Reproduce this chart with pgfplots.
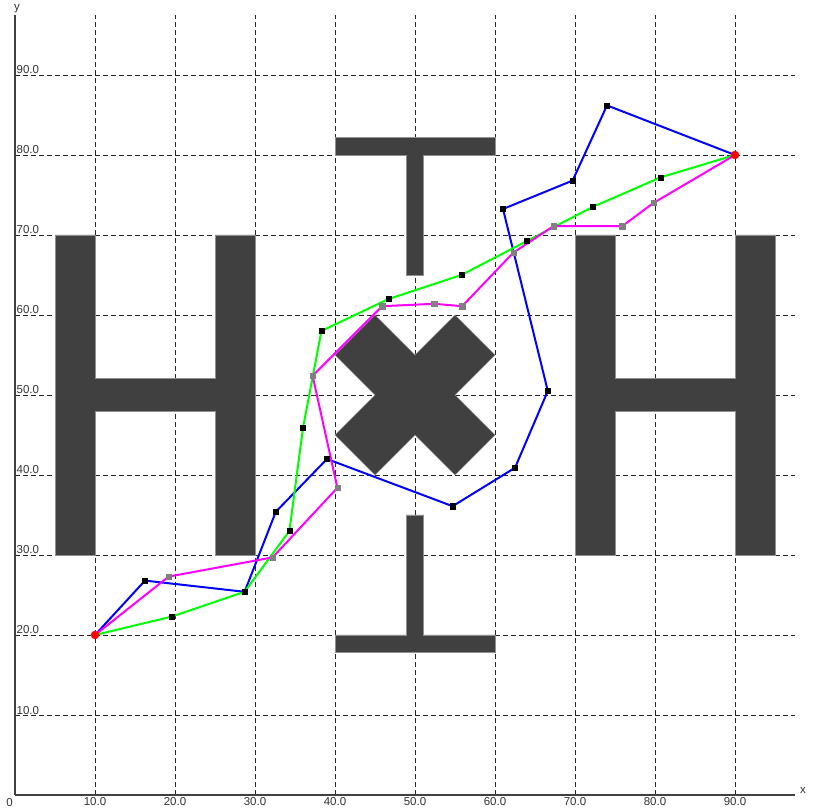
\documentclass[border=0pt]{standalone}
\usepackage{fontspec}
\setmainfont{Liberation Sans}
\usepackage{pgfplots}
\pgfplotsset{compat=1.18}

\definecolor{shape}{HTML}{404040}
\definecolor{shapeedge}{HTML}{909090}
\definecolor{axisgray}{HTML}{404040}
\definecolor{pgreen}{HTML}{00FF00}
\definecolor{pblue}{HTML}{0000FF}
\definecolor{pmag}{HTML}{FF00FF}
\definecolor{mgray}{HTML}{808080}

\pgfplotstableread{
x y
10 20
16.25 26.8
28.7 25.4
32.6 35.4
39.0 42.0
54.7 36.1
62.5 40.9
66.6 50.5
61.0 73.25
69.7 76.8
74.0 86.2
90 80
}\bluepath

\pgfplotstableread{
x y
10 20
19.6 22.3
28.7 25.4
34.3 33.0
36.0 45.9
38.3 58.0
46.7 62.0
55.8 65.0
64.0 69.25
72.2 73.5
80.7 77.2
90 80
}\greenpath

\pgfplotstableread{
x y
10 20
19.2 27.3
32.2 29.7
40.3 38.4
37.2 52.4
45.9 61.1
52.4 61.4
55.9 61.1
62.3 67.8
67.3 71.1
75.9 71.1
79.8 74.0
90 80
}\magpath

\begin{document}
\begin{tikzpicture}
\begin{axis}[
    width=780pt, height=780pt,
    scale only axis,
    xmin=0, xmax=97.5, ymin=0, ymax=97.5,
    axis lines=left,
    axis line style={-, draw=axisgray, line width=1.6pt},
    xtick={10,20,...,90},
    ytick={10,20,...,90},
    major tick length=0pt,
    grid=major,
    major grid style={black!85, line width=0.9pt, dash pattern=on 5pt off 3pt},
    /pgf/number format/.cd, fixed, fixed zerofill, precision=1, assume math mode=true,
    /pgfplots/.cd,
    ticklabel style={font=\fontsize{11.5}{13}\selectfont, text=black!80},
    xticklabel style={anchor=north, inner sep=1pt, yshift=-1pt},
    yticklabel style={anchor=base west, inner sep=0pt, xshift=1.5pt, yshift=1pt},
    clip=false,
]
% gray shapes
\addplot[fill=shape, draw=shapeedge, line width=0.8pt] coordinates {
    (5,30) (5,70) (10,70) (10,52.1) (25,52.1) (25,70) (30,70) (30,30)
    (25,30) (25,47.9) (10,47.9) (10,30)} -- cycle;
\addplot[fill=shape, draw=shapeedge, line width=0.8pt] coordinates {
    (70,30) (70,70) (75,70) (75,52.1) (90,52.1) (90,70) (95,70) (95,30)
    (90,30) (90,47.9) (75,47.9) (75,30)} -- cycle;
\addplot[fill=shape, draw=shapeedge, line width=0.8pt] coordinates {
    (40,82.2) (60,82.2) (60,80) (51.1,80) (51.1,65) (48.9,65) (48.9,80) (40,80)} -- cycle;
\addplot[fill=shape, draw=shapeedge, line width=0.8pt] coordinates {
    (40,17.8) (60,17.8) (60,20) (51.1,20) (51.1,35) (48.9,35) (48.9,20) (40,20)} -- cycle;
\addplot[fill=shape, draw=shapeedge, line width=0.5pt] coordinates {
    (45,60) (50,55) (55,60) (60,55) (55,50) (60,45) (55,40) (50,45)
    (45,40) (40,45) (45,50) (40,55)} -- cycle;

% paths
\addplot[pblue, line width=2pt, mark=square*,
    mark options={black, draw=black, line width=0.4pt}, mark size=2.6pt]
    table {\bluepath};
\addplot[pgreen, line width=2pt, mark=square*,
    mark options={black, draw=black, line width=0.4pt}, mark size=2.6pt]
    table {\greenpath};
\addplot[pmag, line width=2pt, mark=square*,
    mark options={mgray, draw=mgray, line width=0.4pt}, mark size=2.6pt]
    table {\magpath};
\addplot[only marks, mark=*, mark size=4pt, red, mark options={fill=red, draw=red}]
    coordinates {(10,20) (90,80)};

\node[anchor=north east, inner sep=1pt, font=\fontsize{11.5}{13}\selectfont, text=black!80]
    at (axis cs:0,0) [xshift=-1pt, yshift=-2pt] {0};
\node[anchor=base west, inner sep=0pt, font=\fontsize{11.5}{13}\selectfont, text=black!80]
    at (rel axis cs:1,0) [xshift=5pt, yshift=2pt] {x};
\node[anchor=base west, inner sep=0pt, font=\fontsize{11.5}{13}\selectfont, text=black!80]
    at (rel axis cs:0,1) [xshift=-1pt, yshift=4pt] {y};
\end{axis}
\pgfresetboundingbox
\path (current axis.south west) ++(-15pt,-14pt) coordinate (bbA);
\path (current axis.north east) ++(24pt,15pt) coordinate (bbB);
\useasboundingbox (bbA) rectangle (bbB);
\end{tikzpicture}
\end{document}
